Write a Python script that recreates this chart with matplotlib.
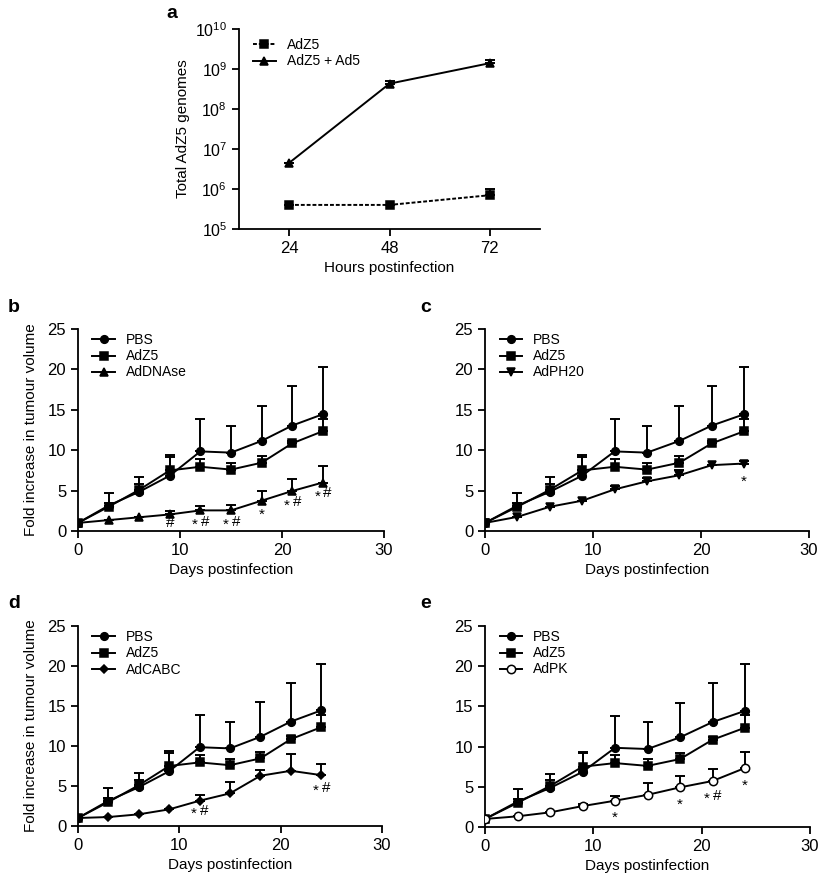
import matplotlib
matplotlib.use("Agg")
import matplotlib.pyplot as plt
import numpy as np

plt.rcParams['font.family'] = ['Liberation Sans', 'DejaVu Sans']
plt.rcParams['mathtext.fontset'] = 'custom'
plt.rcParams['mathtext.rm'] = 'Liberation Sans'
plt.rcParams['mathtext.it'] = 'Liberation Sans'
plt.rcParams['mathtext.default'] = 'regular'

# ---- Panel a data ----
hours = [24, 48, 72]
adz5_genomes = [4.0e5, 4.0e5, 7.0e5]
adz5_genomes_up = [4.0e5, 4.0e5, 1.0e6]
adz5ad5_genomes = [4.5e6, 4.3e8, 1.4e9]
adz5ad5_genomes_up = [4.5e6, 5.1e8, 1.7e9]

# ---- Tumour growth data ----
days = [0, 3, 6, 9, 12, 15, 18, 21, 24]
pbs = [1.0, 3.15, 4.85, 6.85, 9.85, 9.7, 11.15, 13.05, 14.45]
pbs_up = [1.0, 4.75, 6.65, 9.35, 13.85, 13.05, 15.45, 17.9, 20.3]
adz5 = [1.0, 3.0, 5.1, 7.5, 7.95, 7.6, 8.45, 10.85, 12.35]
adz5_up = [1.0, 3.5, 5.8, 9.15, 8.9, 8.4, 9.25, 11.2, 13.9]

addnase = [1.0, 1.35, 1.7, 2.05, 2.55, 2.55, 3.75, 4.95, 6.0]
addnase_up = [1.0, 1.35, 1.7, 2.5, 3.1, 3.2, 4.9, 6.4, 8.1]
adph20 = [1.0, 1.75, 3.0, 3.75, 5.15, 6.15, 6.9, 8.15, 8.35]
adph20_up = [1.0, 1.75, 3.0, 3.75, 5.6, 6.6, 7.5, 8.15, 8.7]
adcabc = [1.0, 1.12, 1.46, 2.08, 3.16, 4.08, 6.28, 6.9, 6.36]
adcabc_up = [1.0, 1.12, 1.46, 2.08, 3.9, 5.5, 7.0, 9.0, 7.7]
adpk = [1.0, 1.33, 1.82, 2.6, 3.27, 4.0, 4.93, 5.72, 7.34]
adpk_up = [1.0, 1.33, 1.82, 2.9, 3.8, 5.5, 6.4, 7.2, 9.3]

# significance annotations: (day, y, text)
ann_b = [(9, 0.95, "#"), (12, 1.15, "*#"), (15, 1.15, "*#"), (18, 2.4, "*"),
         (21, 3.6, "*#"), (24, 4.7, "*#")]
ann_c = [(24, 6.5, "*")]
ann_d = [(12, 1.9, "*#"), (24, 4.8, "*#")]
ann_e = [(12, 1.6, "*"), (18, 3.2, "*"), (21, 3.9, "*#"), (24, 5.5, "*")]

fig = plt.figure(figsize=(8.21, 8.77), dpi=100)

FS = 11
TFS = 12
LW = 1.4

def style(ax):
    for s in ['top', 'right']:
        ax.spines[s].set_visible(False)
    for s in ['left', 'bottom']:
        ax.spines[s].set_linewidth(1.3)
    ax.tick_params(direction='out', length=5, width=1.3, labelsize=TFS)

def ebar(ax, x, y, up, marker, label, mfc='black', ls='-', ms=5.5):
    y = np.array(y); up = np.array(up)
    err = np.vstack([np.zeros_like(y), up - y])
    ax.errorbar(x, y, yerr=err, fmt='none', ecolor='black', elinewidth=LW,
                capsize=3.5, capthick=LW, zorder=2)
    ax.plot(x, y, color='black', lw=LW, ls=ls, marker=marker, ms=ms,
            mfc=mfc, mec='black', mew=1.1, label=label, zorder=3)

def legend(ax, ytop=1.02):
    ax.legend(loc='upper left', frameon=False, fontsize=10, handlelength=1.6,
              handletextpad=0.8, bbox_to_anchor=(0.02, ytop), borderaxespad=0.2,
              labelspacing=0.15)

def annotate(ax, ann):
    for x, y, t in ann:
        if t == "*#":
            ax.annotate("*", (x, y), xytext=(-4, -2.5), textcoords='offset points',
                        ha='center', va='center', fontsize=11)
            ax.annotate("#", (x, y), xytext=(3.5, 0), textcoords='offset points',
                        ha='center', va='center', fontsize=11)
        elif t == "*":
            ax.annotate("*", (x, y), xytext=(0, -2.5), textcoords='offset points',
                        ha='center', va='center', fontsize=11)
        else:
            ax.annotate(t, (x, y), xytext=(0, 0), textcoords='offset points',
                        ha='center', va='center', fontsize=11)

# ---- Panel a ----
axa = fig.add_axes([239/821, 1-229/877, (540-239)/821, (229-29)/877])
style(axa)
axa.set_yscale('log')
ebar(axa, hours, adz5_genomes, adz5_genomes_up, 's', 'AdZ5', ls=(0, (2, 1)))
ebar(axa, hours, adz5ad5_genomes, adz5ad5_genomes_up, '^', 'AdZ5 + Ad5')
axa.set_xlim(12, 84)
axa.set_ylim(1e5, 1e10)
axa.set_xticks(hours)
axa.set_yticks([1e5, 1e6, 1e7, 1e8, 1e9, 1e10])
axa.set_yticklabels([r'$10^{%d}$' % k for k in range(5, 11)])
axa.yaxis.set_minor_locator(matplotlib.ticker.NullLocator())
axa.tick_params(axis='y', labelsize=11.5)
axa.set_xlabel('Hours postinfection', fontsize=FS)
axa.set_ylabel('Total AdZ5 genomes', fontsize=FS)
legend(axa, ytop=0.995)
fig.text(166/821, 1-14/877, 'a', fontsize=14, fontweight='bold', va='center', ha='left')

def growth(rect, third, third_up, marker, label, ann, letter, lpos, ylabel=True,
           mfc='black', ms3=5.5):
    ax = fig.add_axes(rect)
    style(ax)
    ebar(ax, days, pbs, pbs_up, 'o', 'PBS')
    ebar(ax, days, adz5, adz5_up, 's', 'AdZ5')
    ebar(ax, days, third, third_up, marker, label, mfc=mfc, ms=ms3)
    ax.set_xlim(0, 30)
    ax.set_ylim(0, 25)
    ax.set_xticks([0, 10, 20, 30])
    ax.set_yticks([0, 5, 10, 15, 20, 25])
    ax.set_xlabel('Days postinfection', fontsize=FS)
    if ylabel:
        ax.set_ylabel('Fold increase in tumour volume', fontsize=FS, labelpad=7)
    annotate(ax, ann)
    legend(ax)
    fig.text(lpos[0]/821, 1-lpos[1]/877, letter, fontsize=14, fontweight='bold',
             va='center', ha='left')
    return ax

growth([78/821, 1-531/877, (384-78)/821, (531-329)/877], addnase, addnase_up, '^',
       'AdDNAse', ann_b, 'b', (8, 308))
growth([485/821, 1-531/877, (809-485)/821, (531-329)/877], adph20, adph20_up, 'v',
       'AdPH20', ann_c, 'c', (420, 308), ylabel=False)
growth([78/821, 1-826/877, (382-78)/821, (826-626)/877], adcabc, adcabc_up, 'D',
       'AdCABC', ann_d, 'd', (8, 604), ms3=4.5)
growth([485/821, 1-827/877, (810-485)/821, (827-626)/877], adpk, adpk_up, 'o',
       'AdPK', ann_e, 'e', (420, 604), ylabel=False, mfc='white', ms3=6)

fig.savefig('out.png', dpi=100)
